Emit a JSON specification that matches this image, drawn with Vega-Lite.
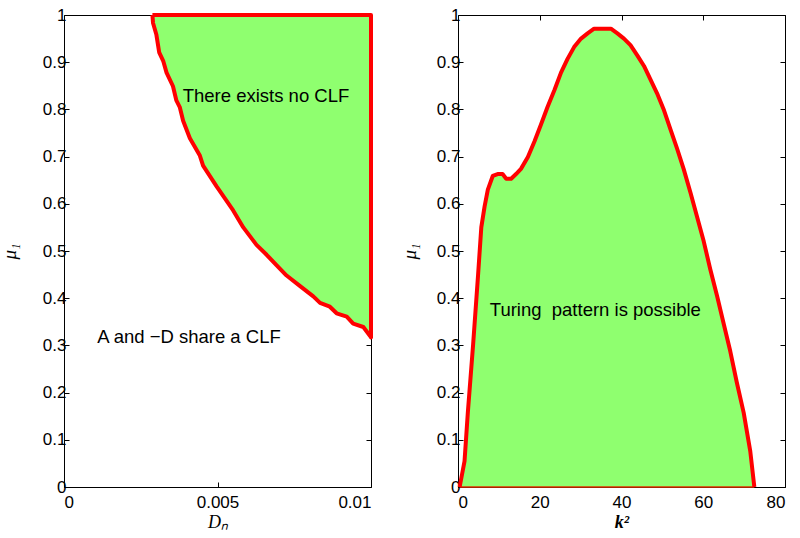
{
  "$schema": "https://vega.github.io/schema/vega-lite/v6.json",
  "background": "white",
  "padding": {"left": 0, "top": 6, "right": 5, "bottom": 5},
  "spacing": 27,
  "config": {
    "view": {"stroke": null},
    "axis": {
      "domainColor": "black", "tickColor": "black", "labelColor": "black",
      "labelFont": "Liberation Sans", "labelFontSize": 17,
      "titleFont": "Liberation Serif", "titleFontSize": 19, "titleFontStyle": "italic", "titleFontWeight": "normal", "titleColor": "black",
      "grid": false, "tickSize": -5, "domainWidth": 1, "tickWidth": 1
    },
    "axisX": {"labelPadding": 12.5, "titlePadding": 3, "titleFontSize": 18},
    "axisY": {"labelPadding": 3, "titlePadding": 23}
  },
  "datasets": {
    "leftB": [
      {"D": 0.00288, "mu": 1}, {"D": 0.0029, "mu": 0.983}, {"D": 0.00301, "mu": 0.958}, {"D": 0.0031, "mu": 0.921},
      {"D": 0.00323, "mu": 0.903}, {"D": 0.00334, "mu": 0.878}, {"D": 0.00355, "mu": 0.849}, {"D": 0.00366, "mu": 0.819},
      {"D": 0.00377, "mu": 0.805}, {"D": 0.00388, "mu": 0.776}, {"D": 0.0041, "mu": 0.739}, {"D": 0.00442, "mu": 0.703},
      {"D": 0.00453, "mu": 0.681}, {"D": 0.00497, "mu": 0.637}, {"D": 0.00551, "mu": 0.586}, {"D": 0.00584, "mu": 0.55},
      {"D": 0.00627, "mu": 0.513}, {"D": 0.0066, "mu": 0.492}, {"D": 0.00692, "mu": 0.47}, {"D": 0.00725, "mu": 0.448},
      {"D": 0.00768, "mu": 0.426}, {"D": 0.00812, "mu": 0.404}, {"D": 0.00834, "mu": 0.39}, {"D": 0.00866, "mu": 0.382},
      {"D": 0.00888, "mu": 0.368}, {"D": 0.00921, "mu": 0.361}, {"D": 0.00942, "mu": 0.346}, {"D": 0.00975, "mu": 0.339},
      {"D": 0.00997, "mu": 0.32}, {"D": 0.01, "mu": 0.317}
    ],
    "leftO": [
      {"i": 0, "D": 0.00288, "mu": 1}, {"i": 1, "D": 0.0029, "mu": 0.983}, {"i": 2, "D": 0.00301, "mu": 0.958}, {"i": 3, "D": 0.0031, "mu": 0.921},
      {"i": 4, "D": 0.00323, "mu": 0.903}, {"i": 5, "D": 0.00334, "mu": 0.878}, {"i": 6, "D": 0.00355, "mu": 0.849}, {"i": 7, "D": 0.00366, "mu": 0.819},
      {"i": 8, "D": 0.00377, "mu": 0.805}, {"i": 9, "D": 0.00388, "mu": 0.776}, {"i": 10, "D": 0.0041, "mu": 0.739}, {"i": 11, "D": 0.00442, "mu": 0.703},
      {"i": 12, "D": 0.00453, "mu": 0.681}, {"i": 13, "D": 0.00497, "mu": 0.637}, {"i": 14, "D": 0.00551, "mu": 0.586}, {"i": 15, "D": 0.00584, "mu": 0.55},
      {"i": 16, "D": 0.00627, "mu": 0.513}, {"i": 17, "D": 0.0066, "mu": 0.492}, {"i": 18, "D": 0.00692, "mu": 0.47}, {"i": 19, "D": 0.00725, "mu": 0.448},
      {"i": 20, "D": 0.00768, "mu": 0.426}, {"i": 21, "D": 0.00812, "mu": 0.404}, {"i": 22, "D": 0.00834, "mu": 0.39}, {"i": 23, "D": 0.00866, "mu": 0.382},
      {"i": 24, "D": 0.00888, "mu": 0.368}, {"i": 25, "D": 0.00921, "mu": 0.361}, {"i": 26, "D": 0.00942, "mu": 0.346}, {"i": 27, "D": 0.00975, "mu": 0.339},
      {"i": 28, "D": 0.00997, "mu": 0.32}, {"i": 29, "D": 0.01, "mu": 0.317}, {"i": 30, "D": 0.01, "mu": 1}, {"i": 31, "D": 0.00288, "mu": 1}
    ],
    "leftText": [
      {"D": 0.00658, "mu": 0.828, "t": "There exists no CLF"},
      {"D": 0.00407, "mu": 0.318, "t": "A and −D share a CLF"}
    ],
    "right": [
      {"k": 0.4, "mu": 0}, {"k": 1.6, "mu": 0.055}, {"k": 2.4, "mu": 0.157}, {"k": 3.7, "mu": 0.302}, {"k": 4.9, "mu": 0.448},
      {"k": 5.7, "mu": 0.55}, {"k": 6.5, "mu": 0.594}, {"k": 7.3, "mu": 0.63}, {"k": 8.5, "mu": 0.659}, {"k": 9.7, "mu": 0.663},
      {"k": 10.9, "mu": 0.663}, {"k": 11.8, "mu": 0.653}, {"k": 13.0, "mu": 0.653}, {"k": 14.2, "mu": 0.663}, {"k": 15.4, "mu": 0.674},
      {"k": 17.1, "mu": 0.699}, {"k": 18.7, "mu": 0.732}, {"k": 20.3, "mu": 0.768}, {"k": 21.9, "mu": 0.805}, {"k": 23.6, "mu": 0.841},
      {"k": 25.2, "mu": 0.878}, {"k": 26.8, "mu": 0.907}, {"k": 28.4, "mu": 0.932}, {"k": 30.1, "mu": 0.95}, {"k": 31.7, "mu": 0.961},
      {"k": 33.3, "mu": 0.971}, {"k": 35.7, "mu": 0.971}, {"k": 37.4, "mu": 0.971}, {"k": 39.0, "mu": 0.961}, {"k": 40.6, "mu": 0.95},
      {"k": 42.2, "mu": 0.936}, {"k": 43.9, "mu": 0.914}, {"k": 45.5, "mu": 0.892}, {"k": 47.1, "mu": 0.863}, {"k": 48.7, "mu": 0.834},
      {"k": 50.4, "mu": 0.798}, {"k": 52.0, "mu": 0.757}, {"k": 53.6, "mu": 0.717}, {"k": 55.2, "mu": 0.674}, {"k": 56.9, "mu": 0.623},
      {"k": 58.5, "mu": 0.572}, {"k": 60.1, "mu": 0.521}, {"k": 61.7, "mu": 0.462}, {"k": 63.4, "mu": 0.404}, {"k": 65.0, "mu": 0.346},
      {"k": 66.6, "mu": 0.288}, {"k": 68.2, "mu": 0.222}, {"k": 69.9, "mu": 0.157}, {"k": 71.5, "mu": 0.076}, {"k": 72.5, "mu": 0}
    ],
    "rightBase": [{"k0": 0.4, "k1": 72.5, "mu": 0}],
    "rightText": [{"k": 33.6, "mu": 0.375, "t": "Turing \u00a0pattern is possible"}]
  },
  "hconcat": [
    {
      "width": 307, "height": 472,
      "resolve": {"axis": {"x": "independent", "y": "independent"}},
      "layer": [
        {
          "data": {"name": "leftB"},
          "mark": {"type": "area", "color": "#8FFF6F", "opacity": 1},
          "encoding": {
            "x": {"field": "D", "type": "quantitative", "scale": {"domain": [0, 0.01], "nice": false, "zero": false},
                  "axis": {"orient": "bottom", "title": "Dₙ", "values": [0, 0.005, 0.01], "format": "~g"}},
            "y": {"field": "mu", "type": "quantitative", "scale": {"domain": [0, 1], "nice": false},
                  "axis": {"orient": "left", "title": "μ₁", "values": [0, 0.1, 0.2, 0.3, 0.4, 0.5, 0.6, 0.7, 0.8, 0.9, 1], "format": "~g"}},
            "y2": {"datum": 1}
          }
        },
        {
          "data": {"name": "leftO"},
          "mark": {"type": "line", "color": "#FF0000", "strokeWidth": 4, "strokeJoin": "round"},
          "encoding": {
            "x": {"field": "D", "type": "quantitative",
                  "axis": {"orient": "top", "title": null, "labels": false, "values": [0, 0.005, 0.01]}},
            "y": {"field": "mu", "type": "quantitative",
                  "axis": {"orient": "right", "title": null, "labels": false, "values": [0, 0.1, 0.2, 0.3, 0.4, 0.5, 0.6, 0.7, 0.8, 0.9, 1]}},
            "order": {"field": "i", "type": "quantitative"}
          }
        },
        {
          "data": {"name": "leftText"},
          "mark": {"type": "text", "font": "Liberation Sans", "fontSize": 18.5, "color": "black"},
          "encoding": {
            "x": {"field": "D", "type": "quantitative", "axis": null},
            "y": {"field": "mu", "type": "quantitative", "axis": null},
            "text": {"field": "t"}
          }
        }
      ]
    },
    {
      "width": 327, "height": 472,
      "resolve": {"axis": {"x": "independent", "y": "independent"}},
      "layer": [
        {
          "data": {"name": "right"},
          "mark": {"type": "area", "color": "#8FFF6F", "opacity": 1},
          "encoding": {
            "x": {"field": "k", "type": "quantitative", "scale": {"domain": [0, 80], "nice": false},
                  "axis": {"orient": "bottom", "title": "k²", "titleFontWeight": "bold", "values": [0, 20, 40, 60, 80]}},
            "y": {"field": "mu", "type": "quantitative", "scale": {"domain": [0, 1], "nice": false},
                  "axis": {"orient": "left", "title": "μ₁", "titlePadding": 17, "values": [0, 0.1, 0.2, 0.3, 0.4, 0.5, 0.6, 0.7, 0.8, 0.9, 1], "format": "~g"}},
            "y2": {"datum": 0}
          }
        },
        {
          "data": {"name": "rightBase"},
          "mark": {"type": "rule", "color": "#E03000", "strokeWidth": 1.5},
          "encoding": {
            "x": {"field": "k0", "type": "quantitative", "axis": null},
            "x2": {"field": "k1"},
            "y": {"field": "mu", "type": "quantitative", "axis": null}
          }
        },
        {
          "data": {"name": "right"},
          "mark": {"type": "line", "color": "#FF0000", "strokeWidth": 4, "strokeJoin": "round"},
          "encoding": {
            "x": {"field": "k", "type": "quantitative",
                  "axis": {"orient": "top", "title": null, "labels": false, "values": [0, 20, 40, 60, 80]}},
            "y": {"field": "mu", "type": "quantitative",
                  "axis": {"orient": "right", "title": null, "labels": false, "values": [0, 0.1, 0.2, 0.3, 0.4, 0.5, 0.6, 0.7, 0.8, 0.9, 1]}}
          }
        },
        {
          "data": {"name": "rightText"},
          "mark": {"type": "text", "font": "Liberation Sans", "fontSize": 18.5, "color": "black"},
          "encoding": {
            "x": {"field": "k", "type": "quantitative", "axis": null},
            "y": {"field": "mu", "type": "quantitative", "axis": null},
            "text": {"field": "t"}
          }
        }
      ]
    }
  ]
}
